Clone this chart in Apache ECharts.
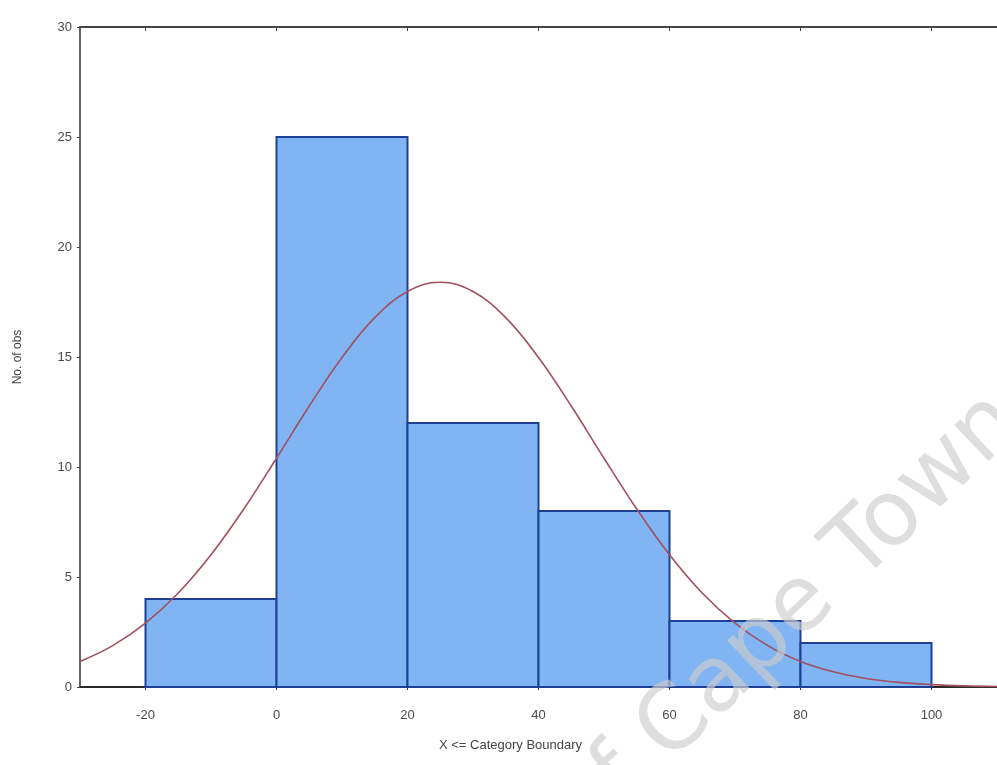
<!DOCTYPE html>
<html>
<head>
<meta charset="utf-8">
<script src="https://cdn.jsdelivr.net/npm/echarts@6/dist/echarts.min.js"></script>
<style>
  html, body { margin: 0; padding: 0; background: #fff; }
  #chart { width: 997px; height: 765px; }
</style>
</head>
<body>
<div id="chart"></div>
<script>
// histogram bins (upper boundary)
var binLow = [-20, 0, 20, 40, 60, 80];
var binHigh = [0, 20, 40, 60, 80, 100];
var binCounts = [4, 25, 12, 8, 3, 2];

// fitted curve
var curveX = [-30, -25, -20, -15, -10, -5, 0, 5, 10, 15, 20, 25, 30, 35, 40, 45, 50, 55, 60, 65, 70, 75, 80, 85, 90, 95, 100, 105, 110];
var curveY = [1.16, 1.88, 2.90, 4.27, 6.01, 8.09, 10.40, 12.77, 14.98, 16.79, 17.98, 18.40, 17.98, 16.79, 14.98, 12.77, 10.40, 8.09, 6.01, 4.27, 2.90, 1.88, 1.16, 0.69, 0.39, 0.21, 0.11, 0.05, 0.02];

var xTicks = [-20, 0, 20, 40, 60, 80, 100];

var chart = echarts.init(document.getElementById('chart'));

var bars = binLow.map(function (lo, i) {
    return [lo, binHigh[i], binCounts[i]];
});
var curve = curveX.map(function (x, i) {
    return [x, curveY[i]];
});

var labelFont = { fontFamily: 'Liberation Sans', fontSize: 13, color: '#4a4a4a' };

var option = {
    backgroundColor: '#fff',
    animation: false,
    grid: { left: 80, right: -4, top: 27, bottom: 78 },
    xAxis: [{
        type: 'value',
        min: -30,
        max: 110,
        name: 'X <= Category Boundary',
        nameLocation: 'middle',
        nameGap: 52,
        nameTextStyle: { fontFamily: 'Liberation Sans', fontSize: 13, color: '#444', padding: [0, 56, 0, 0] },
        splitLine: { show: false },
        axisLine: { onZero: false, lineStyle: { color: '#2a2a2a', width: 2 } },
        axisTick: { customValues: xTicks, length: 3, lineStyle: { color: '#333' } },
        axisLabel: Object.assign({ customValues: xTicks, margin: 22 }, labelFont)
    }, {
        type: 'value',
        position: 'top',
        min: -30,
        max: 110,
        splitLine: { show: false },
        axisLine: { onZero: false, lineStyle: { color: '#444', width: 2 } },
        axisTick: { customValues: xTicks, inside: true, length: 4, lineStyle: { color: '#444' } },
        axisLabel: { show: false }
    }],
    yAxis: {
        type: 'value',
        min: 0,
        max: 30,
        interval: 5,
        name: 'No. of obs',
        nameLocation: 'middle',
        nameGap: 56,
        nameTextStyle: { fontFamily: 'Liberation Sans', fontSize: 12, color: '#444' },
        splitLine: { show: false },
        axisLine: { show: true, onZero: false, lineStyle: { color: '#333', width: 1.5 } },
        axisTick: { show: true, length: 3, lineStyle: { color: '#444' } },
        axisLabel: Object.assign({ margin: 8 }, labelFont)
    },
    series: [{
        type: 'custom',
        data: bars,
        z: 2,
        renderItem: function (params, api) {
            var p0 = api.coord([api.value(0), 0]);
            var p1 = api.coord([api.value(1), api.value(2)]);
            return {
                type: 'rect',
                shape: { x: p0[0], y: p1[1], width: p1[0] - p0[0], height: p0[1] - p1[1] },
                style: { fill: '#80b4f3', stroke: '#1d3f94', lineWidth: 2 }
            };
        }
    }, {
        type: 'line',
        data: curve,
        smooth: 0.4,
        showSymbol: false,
        z: 3,
        lineStyle: { color: '#a24f5e', width: 1.6 }
    }],
    graphic: [{
        // watermark of the scanned source
        type: 'text',
        x: 1008,
        y: 410,
        rotation: 43.5 * Math.PI / 180,
        z: 10,
        silent: true,
        style: {
            text: 'University of Cape Town',
            fontFamily: 'DejaVu Sans',
            fontSize: 91,
            fill: 'rgba(205,205,205,0.66)',
            align: 'right',
            verticalAlign: 'middle'
        }
    }]
};

chart.setOption(option);
</script>
</body>
</html>
